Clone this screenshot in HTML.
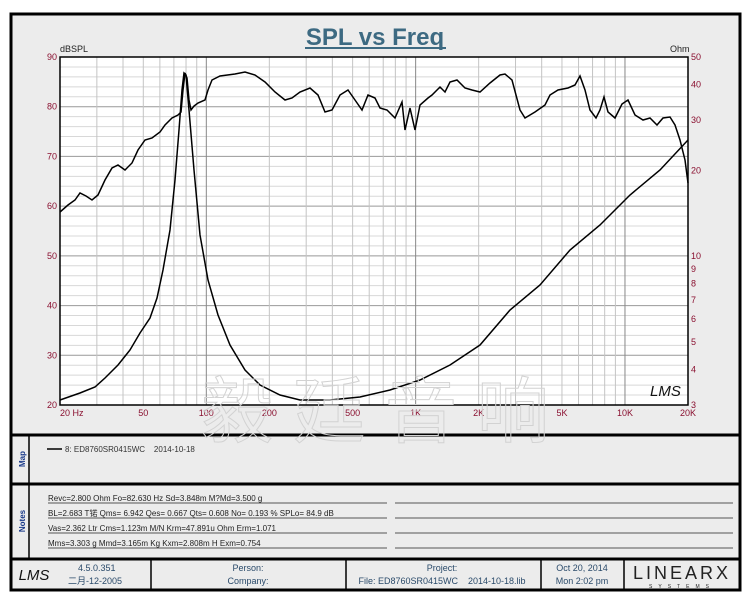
<!DOCTYPE html>
<html><head><meta charset="utf-8"><style>
body{margin:0;background:#fff;}
svg text{font-family:"Liberation Sans","Noto Sans CJK SC",sans-serif;}
</style></head><body>
<svg id="s" width="750" height="600" xmlns="http://www.w3.org/2000/svg">
<rect x="11" y="14" width="729" height="576" fill="#ececec" stroke="#000" stroke-width="3"/>
<text x="375" y="45" font-size="24" font-weight="bold" fill="#3d6a82" text-anchor="middle">SPL vs Freq</text>
<line x1="305" y1="48" x2="446" y2="48" stroke="#3d6a82" stroke-width="2"/>
<rect x="60" y="57" width="628" height="348" fill="#fff"/>
<g id="grid"></g>
<rect x="60" y="57" width="628" height="348" fill="none" stroke="#000" stroke-width="1.5"/>
<text x="60" y="52" font-size="9" fill="#222">dBSPL</text>
<text x="670" y="52" font-size="9" fill="#222">Ohm</text>
<g id="lab" font-size="9"></g>
<text x="650" y="396" font-size="15" font-style="italic" fill="#111">LMS</text>
<polyline id="spl" fill="none" stroke="#000" stroke-width="1.5"/>
<polyline id="imp" fill="none" stroke="#000" stroke-width="1.5"/>
<line x1="11" y1="435" x2="740" y2="435" stroke="#000" stroke-width="3"/>
<line x1="11" y1="484" x2="740" y2="484" stroke="#000" stroke-width="3"/>
<line x1="11" y1="559" x2="740" y2="559" stroke="#000" stroke-width="3"/>
<line x1="29" y1="435" x2="29" y2="559" stroke="#000" stroke-width="1.5"/>
<text transform="translate(25,459) rotate(-90)" font-size="8" font-weight="bold" fill="#1a3a8a" text-anchor="middle">Map</text>
<text transform="translate(25,521) rotate(-90)" font-size="8" font-weight="bold" fill="#1a3a8a" text-anchor="middle">Notes</text>
<line x1="47" y1="449" x2="62" y2="449" stroke="#000" stroke-width="1.5"/>
<text x="65" y="452" font-size="8" fill="#333">8: ED8760SR0415WC &#160;&#160; 2014-10-18</text>
<g font-size="8" fill="#222">
<text x="48" y="501">Revc=2.800 Ohm  Fo=82.630 Hz  Sd=3.848m M?Md=3.500 g</text>
<text x="48" y="516">BL=2.683 T&#x9518;  Qms= 6.942  Qes= 0.667  Qts= 0.608  No= 0.193 %  SPLo= 84.9 dB</text>
<text x="48" y="531">Vas=2.362 Ltr  Cms=1.123m M/N  Krm=47.891u Ohm  Erm=1.071</text>
<text x="48" y="546">Mms=3.303 g  Mmd=3.165m Kg  Kxm=2.808m H  Exm=0.754</text>
</g>
<g stroke="#555" stroke-width="1">
<line x1="48" y1="503" x2="387" y2="503"/><line x1="395" y1="503" x2="733" y2="503"/>
<line x1="48" y1="518" x2="387" y2="518"/><line x1="395" y1="518" x2="733" y2="518"/>
<line x1="48" y1="533" x2="387" y2="533"/><line x1="395" y1="533" x2="733" y2="533"/>
<line x1="48" y1="548" x2="387" y2="548"/><line x1="395" y1="548" x2="733" y2="548"/>
</g>
<g stroke="#000" stroke-width="1.5">
<line x1="151" y1="559" x2="151" y2="590"/><line x1="346" y1="559" x2="346" y2="590"/>
<line x1="541" y1="559" x2="541" y2="590"/><line x1="624" y1="559" x2="624" y2="590"/>
</g>
<g font-size="9" fill="#2a4a6a" text-anchor="middle">
<text x="34" y="580" font-size="15" font-style="italic" fill="#111">LMS</text>
<text x="78" y="571" text-anchor="start">4.5.0.351</text>
<text x="68" y="584" text-anchor="start">二月-12-2005</text>
<text x="248" y="571">Person:</text><text x="248" y="584">Company:</text>
<text x="442" y="571">Project:</text><text x="442" y="584">File: ED8760SR0415WC &#160;&#160; 2014-10-18.lib</text>
<text x="582" y="571">Oct 20, 2014</text><text x="582" y="584">Mon  2:02 pm</text>
<text x="682" y="579" font-size="18" font-family="Liberation Serif" fill="#222" letter-spacing="3">LINEARX</text>
<text x="682" y="588" font-size="5" fill="#222" letter-spacing="6">SYSTEMS</text>
</g>
<text x="385" y="437" font-size="72" fill="none" stroke="#d2d2d2" stroke-width="1" text-anchor="middle" font-family="Noto Sans CJK SC,sans-serif" letter-spacing="20">毅廷音响</text>
</svg>
<script>
var ns="http://www.w3.org/2000/svg";
function X(f){return 60+(Math.log10(f)-Math.log10(20))*209.33;}
function el(p,t,a,txt){var e=document.createElementNS(ns,t);for(var k in a)e.setAttribute(k,a[k]);if(txt)e.textContent=txt;p.appendChild(e);}
var g=document.getElementById('grid'),L=document.getElementById('lab');
for(var d=20;d<=90;d+=2){var y=405-(d-20)*348/70;el(g,'line',{x1:60,x2:688,y1:y,y2:y,stroke:d%10==0?'#999':'#d8d8d8','stroke-width':1});}
[10,100,1000,10000].forEach(function(dec){for(var m=1;m<10;m++){var f=dec*m;if(f<20||f>20000)continue;var x=X(f);el(g,'line',{x1:x,x2:x,y1:57,y2:405,stroke:m==1?'#888':'#c4c4c4','stroke-width':1});}});
for(var d=20;d<=90;d+=10){el(L,'text',{x:57,y:405-(d-20)*348/70+3,'text-anchor':'end',fill:'#8a1030'},String(d));}
[50,40,30,20,10,9,8,7,6,5,4,3].forEach(function(o){var y=57+(Math.log10(50)-Math.log10(o))*284.8;el(L,'text',{x:691,y:y+3,fill:'#8a1030'},String(o));});
[[20,"20  Hz"],[50,"50"],[100,"100"],[200,"200"],[500,"500"],[1000,"1K"],[2000,"2K"],[5000,"5K"],[10000,"10K"],[20000,"20K"]].forEach(function(a){var x=X(a[0]);el(L,'text',{x:x,y:416,'text-anchor':a[0]==20?'start':'middle',fill:'#8a1030'},a[1]);});
var spl=[60,212,68,205,75,200,80,193,86,196,92,200,98,195,105,180,112,168,118,165,125,170,132,163,138,150,145,140,152,138,160,132,165,125,172,118,178,115,181,112,183,90,185,73,187,78,189,100,191,110,194,106,198,103,205,100,208,90,212,80,220,76,235,74,245,72,255,75,265,82,275,92,285,100,292,98,300,92,310,88,318,95,325,112,332,110,340,95,348,90,355,100,362,110,368,95,375,98,380,108,387,110,395,118,402,102,405,130,410,108,415,130,420,105,428,98,432,95,440,87,445,92,450,82,457,80,465,88,472,90,480,92,490,83,500,75,505,74,512,80,520,110,525,118,535,112,545,105,550,95,558,90,568,88,575,85,580,76,585,90,590,110,596,118,600,110,604,97,608,112,615,118,622,104,628,100,635,115,643,120,650,118,657,125,663,118,670,117,675,125,680,140,685,160,688,183];
var imp=[60,400,80,393,95,387,105,378,118,365,130,350,140,333,150,318,157,298,163,270,170,230,175,180,179,130,182,90,184,73,186,75,189,110,194,170,200,235,208,280,218,315,230,345,245,370,260,385,280,395,300,400,330,400,360,397,390,390,420,380,450,365,480,345,510,310,540,285,570,250,600,225,630,195,660,170,688,140];
document.getElementById('spl').setAttribute('points',spl.join(' '));
document.getElementById('imp').setAttribute('points',imp.join(' '));
</script>
</body></html>
